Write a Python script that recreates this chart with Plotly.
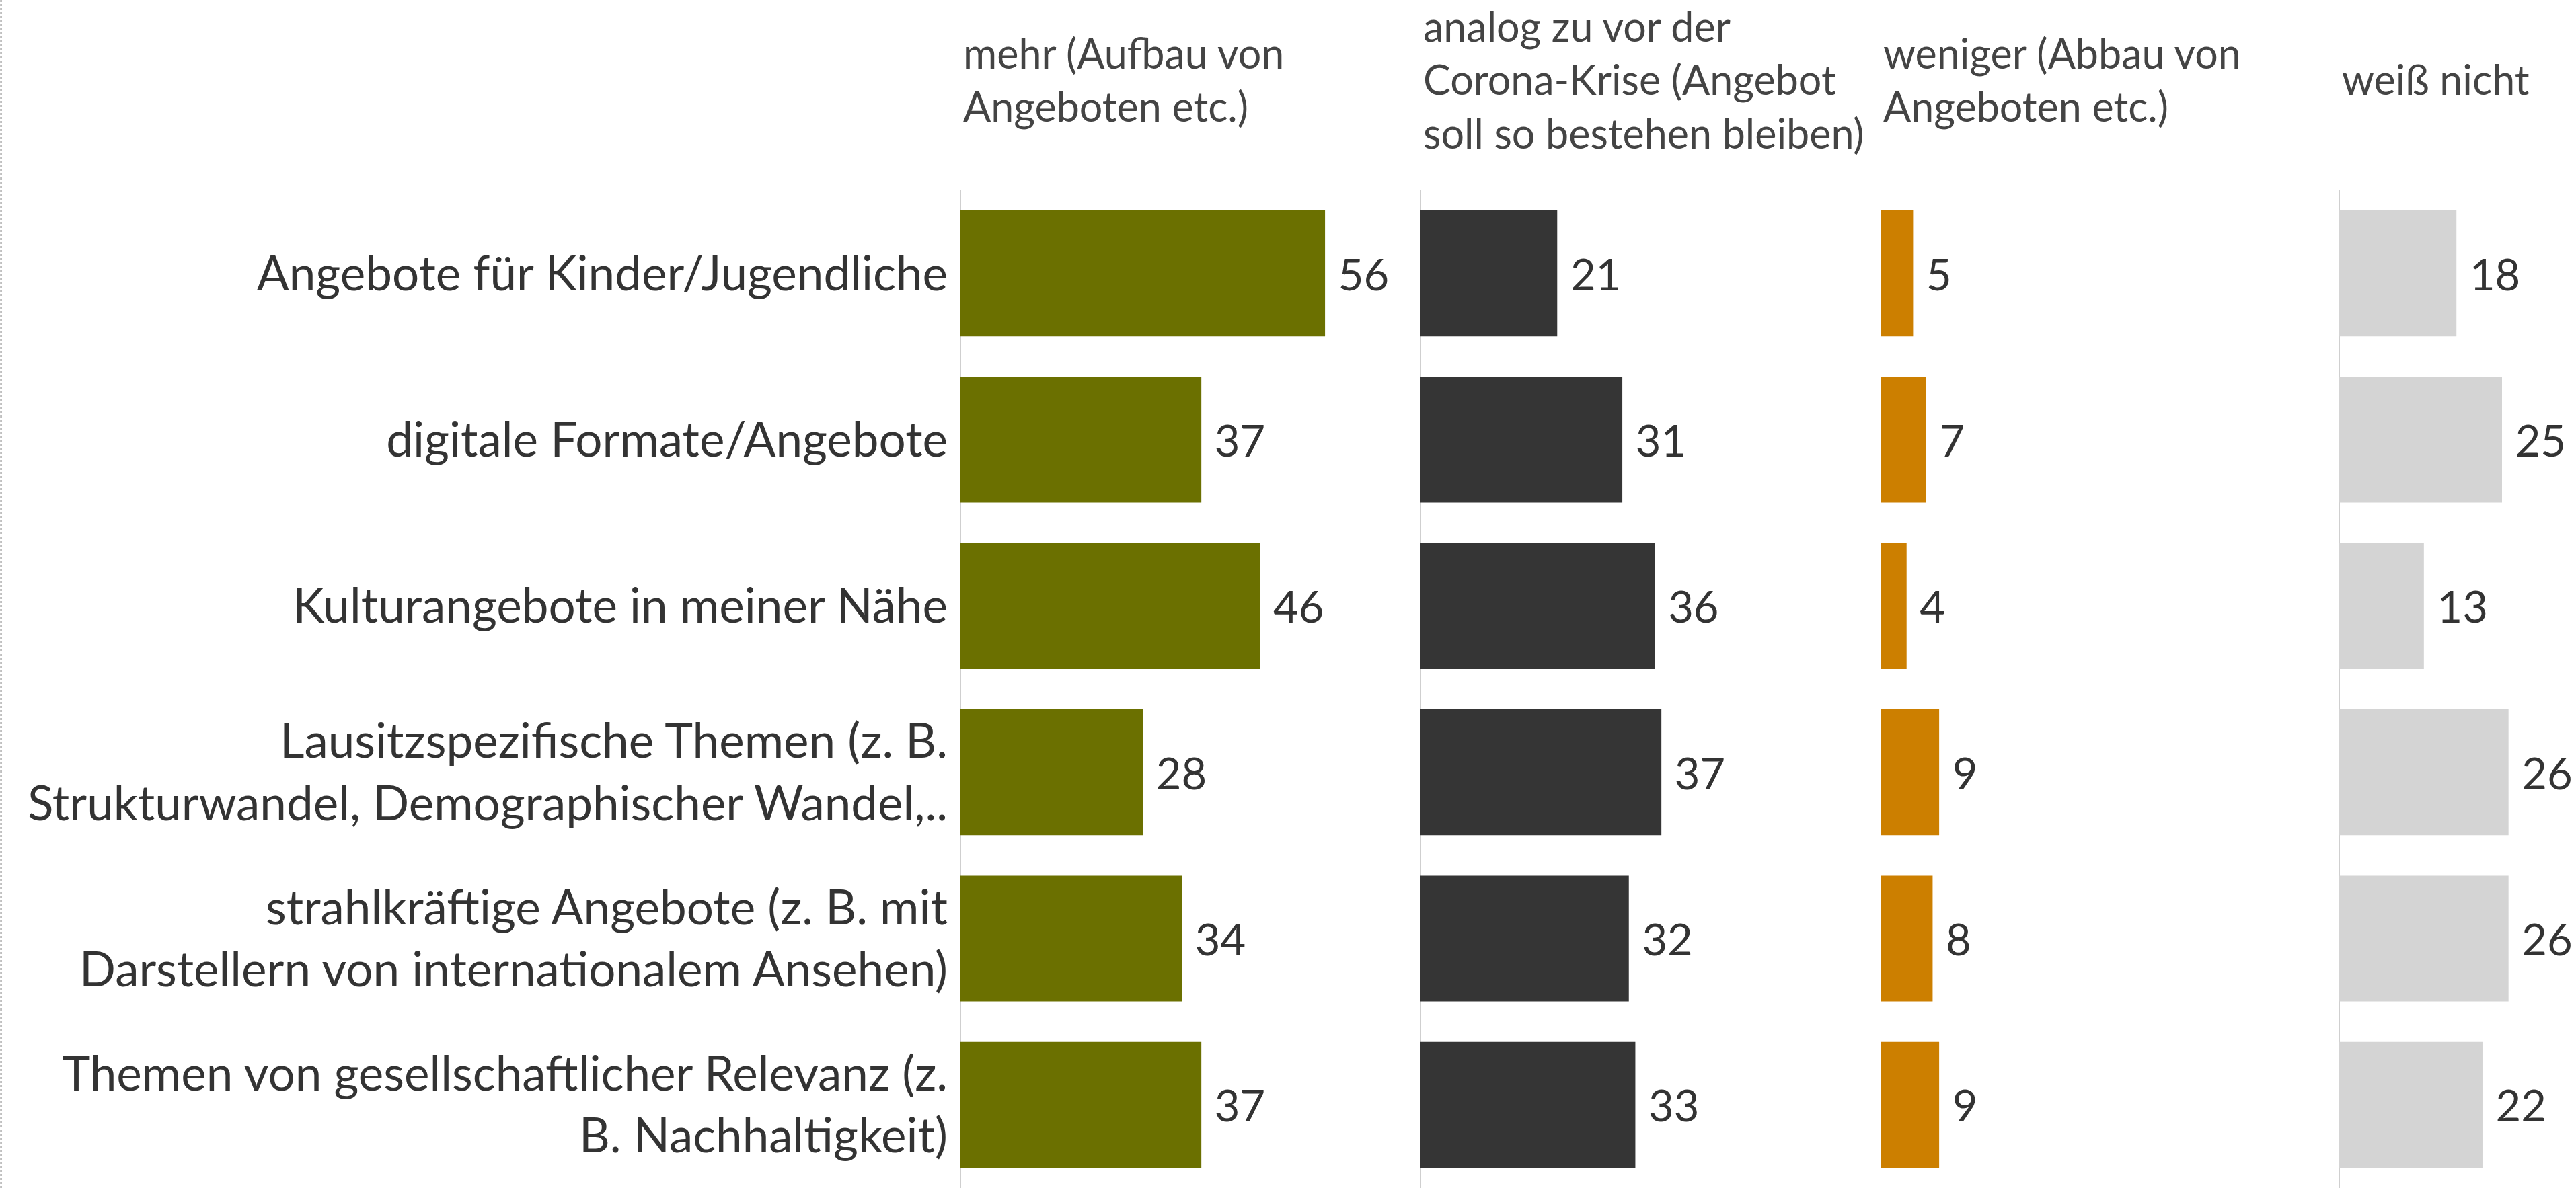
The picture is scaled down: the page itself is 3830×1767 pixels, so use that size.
import plotly.graph_objects as go

# ---- data ----
categories = [
    "Angebote für Kinder/Jugendliche",
    "digitale Formate/Angebote",
    "Kulturangebote in meiner Nähe",
    "Lausitzspezifische Themen (z. B.<br>Strukturwandel, Demographischer Wandel,..",
    "strahlkräftige Angebote (z. B. mit<br>Darstellern von internationalem Ansehen)",
    "Themen von gesellschaftlicher Relevanz (z.<br>B. Nachhaltigkeit)",
]
headers = [
    "mehr (Aufbau von<br>Angeboten etc.)",
    "analog zu vor der<br>Corona-Krise (Angebot<br>soll so bestehen bleiben)",
    "weniger (Abbau von<br>Angeboten etc.)",
    "weiß nicht",
]
mehr = [56, 37, 46, 28, 34, 37]
analog = [21, 31, 36, 37, 32, 33]
weniger = [5, 7, 4, 9, 8, 9]
weiss_nicht = [18, 25, 13, 26, 26, 22]

series = [mehr, analog, weniger, weiss_nicht]
colors = ["#6b7000", "#353535", "#cc7f00", "#d4d4d4"]

# ---- layout geometry (pixels) ----
W, H = 3830, 1767
FONT = "Lato"
TXT = "#333333"
px_per_unit = 9.68
starts = [1428, 2112, 2796, 3478]
ends = [2112, 2796, 3478, 3830]
plot_top_px = 283

fig = go.Figure()
for i, (vals, col) in enumerate(zip(series, colors)):
    xa = "x" if i == 0 else f"x{i+1}"
    fig.add_trace(go.Bar(
        y=categories, x=vals, orientation="h",
        marker=dict(color=col, line=dict(width=0)),
        width=0.757,
        xaxis=xa, yaxis="y",
        text=vals, texttemplate=" %{x}", textposition="outside",
        textfont=dict(family=FONT, size=65, color=TXT),
        constraintext="none", cliponaxis=False,
        hoverinfo="skip", showlegend=False,
    ))

layout = dict(
    width=W, height=H,
    margin=dict(l=0, r=0, t=0, b=0),
    paper_bgcolor="white", plot_bgcolor="white",
    yaxis=dict(
        domain=[0, 1 - plot_top_px / H], anchor="x",
        categoryorder="array", categoryarray=categories,
        autorange="reversed",
        showgrid=False, zeroline=False, showline=False, ticks="",
        tickfont=dict(family=FONT, size=71, color=TXT),
        ticklabelstandoff=18,
    ),
)
shapes = []
annotations = []
for i in range(4):
    key = "xaxis" if i == 0 else f"xaxis{i+1}"
    ref = "x" if i == 0 else f"x{i+1}"
    d0, d1 = starts[i] / W, ends[i] / W
    rng = (ends[i] - starts[i]) / px_per_unit
    layout[key] = dict(
        domain=[d0, d1], range=[0, rng], anchor="y",
        showgrid=False, zeroline=False, showline=False,
        showticklabels=False, ticks="", fixedrange=True,
    )
    shapes.append(dict(
        type="line", xref=ref, yref="paper", x0=0, x1=0,
        y0=0, y1=1 - plot_top_px / H, layer="below",
        line=dict(color="#cfcfcf", width=2),
    ))
    annotations.append(dict(
        text=headers[i], xref="paper", yref="paper",
        x=(starts[i] + 2) / W, y=1 - 118 / H,
        xanchor="left", yanchor="middle", align="left",
        showarrow=False,
        font=dict(family=FONT, size=61, color="#444444"),
    ))

shapes.append(dict(
    type="line", xref="paper", yref="paper", x0=0.0004, x1=0.0004, y0=0, y1=1,
    line=dict(color="#888888", width=2, dash="dot"),
))
layout["shapes"] = shapes
layout["annotations"] = annotations
fig.update_layout(**layout)

fig.write_html(
    "out.html",
    config={"displayModeBar": False},
    post_script="document.body.style.margin='0';",
)
